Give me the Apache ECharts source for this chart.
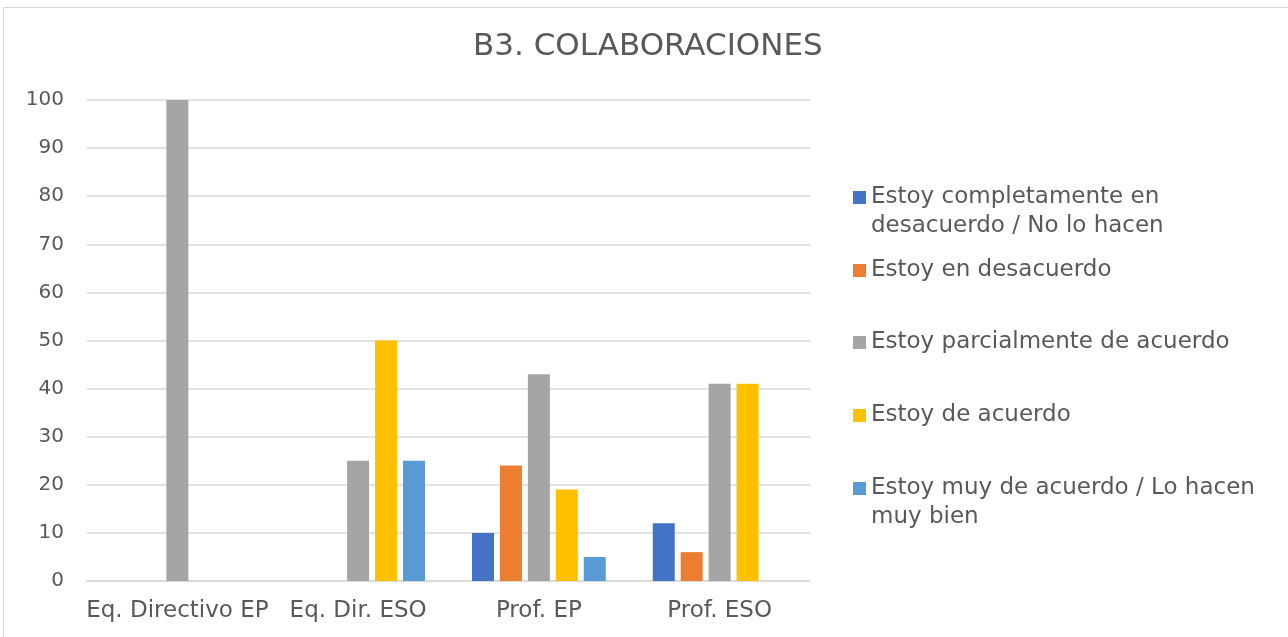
<!DOCTYPE html>
<html>
<head>
<meta charset="utf-8">
<title>B3. COLABORACIONES</title>
<script src="https://cdn.jsdelivr.net/npm/echarts@6/dist/echarts.min.js"></script>
<style>
    html, body { margin: 0; padding: 0; overflow: hidden; background: #fff; }
    #chart { position: absolute; left: 0; top: 0; width: 1288px; height: 637px; }
    .frame { position: absolute; left: 3px; top: 7px; width: 1400px; height: 800px;
             border: 1px solid #d9d9d9; pointer-events: none; }
</style>
</head>
<body>
<div id="chart"></div>
<div class="frame"></div>
<script>
// 数据
var categories = ['Eq. Directivo EP', 'Eq. Dir. ESO', 'Prof. EP', 'Prof. ESO'];
var seriesNames = [
    'Estoy completamente en desacuerdo / No lo hacen',
    'Estoy en desacuerdo',
    'Estoy parcialmente de acuerdo',
    'Estoy de acuerdo',
    'Estoy muy de acuerdo / Lo hacen muy bien'
];
// 图例文字（按原图换行，首行前空一行让图标对齐首行）
var legendLabels = [
    '\nEstoy completamente en\ndesacuerdo / No lo hacen',
    'Estoy en desacuerdo',
    'Estoy parcialmente de acuerdo',
    'Estoy de acuerdo',
    '\nEstoy muy de acuerdo / Lo hacen\nmuy bien'
];
var completamenteDesacuerdo = [0, 0, 10, 12];
var enDesacuerdo = [0, 0, 24, 6];
var parcialmente = [100, 25, 43, 41];
var deAcuerdo = [0, 50, 19, 41];
var muyDeAcuerdo = [0, 25, 5, 0];
var yTicks = [0, 10, 20, 30, 40, 50, 60, 70, 80, 90, 100];

(function() {
    var myChart = echarts.init(document.getElementById('chart'));
    var font = '"DejaVu Sans", sans-serif';
    var textColor = '#595959';
    var colors = ['#4472C4', '#ED7D31', '#A5A5A5', '#FFC000', '#5B9BD5'];
    var values = [completamenteDesacuerdo, enDesacuerdo, parcialmente, deAcuerdo, muyDeAcuerdo];
    // 图例每项图标的顶部位置
    var iconTops = [191, 264, 336, 409, 482];

    var legends = seriesNames.map(function(name, i) {
        var twoLines = legendLabels[i].indexOf('\n') >= 0;
        return {
            orient: 'vertical',
            left: 853,
            top: iconTops[i] - (twoLines ? 37 : 8),
            padding: 0,
            itemWidth: 13,
            itemHeight: 13,
            icon: 'rect',
            selectedMode: false,
            data: [name],
            formatter: function() { return legendLabels[i]; },
            textStyle: {
                fontFamily: font,
                fontSize: 23,
                color: textColor,
                lineHeight: 29
            }
        };
    });

    var option = {
        animation: false,
        color: colors,
        title: {
            text: 'B3. COLABORACIONES',
            left: 473,
            top: 31,
            padding: 0,
            textStyle: {
                fontFamily: font,
                fontSize: 31,
                fontWeight: 'normal',
                color: textColor
            }
        },
        legend: legends,
        grid: { left: 87, right: 478, top: 100, bottom: 56, containLabel: false },
        xAxis: {
            type: 'category',
            data: categories,
            axisTick: { show: false },
            axisLine: { lineStyle: { color: '#d9d9d9', width: 1.5 } },
            axisLabel: {
                fontFamily: font,
                fontSize: 23,
                color: textColor,
                margin: 19,
                interval: 0
            }
        },
        yAxis: {
            type: 'value',
            min: yTicks[0],
            max: yTicks[yTicks.length - 1],
            interval: yTicks[1] - yTicks[0],
            axisLine: { show: false },
            axisTick: { show: false },
            splitLine: { lineStyle: { color: '#d9d9d9', width: 1.5 } },
            axisLabel: {
                fontFamily: font,
                fontSize: 20,
                color: textColor,
                margin: 23
            }
        },
        series: seriesNames.map(function(name, i) {
            return {
                name: name,
                type: 'bar',
                barWidth: 22,
                barGap: '27%',
                data: values[i]
            };
        })
    };
    myChart.setOption(option);
})();
</script>
</body>
</html>
